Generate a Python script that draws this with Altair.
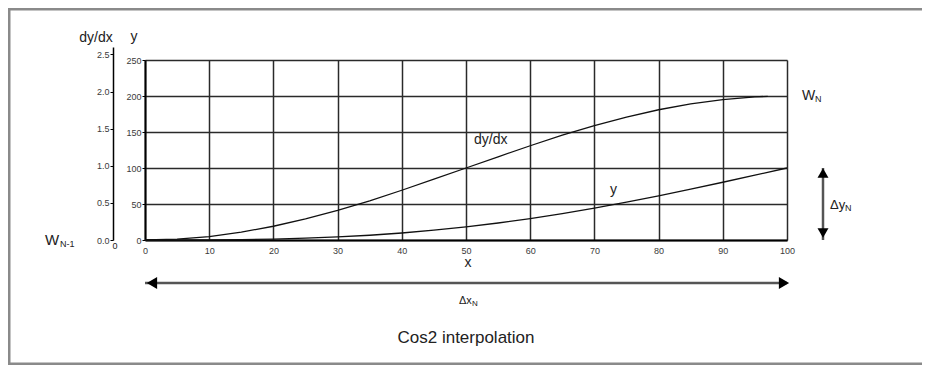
import altair as alt
import pandas as pd

# ---- data ----
x_pts = [0, 5, 10, 15, 20, 25, 30, 35, 40, 45, 50, 55, 60, 65, 70, 75, 80, 85, 90, 95, 100]
dydx_x = [0, 5, 10, 15, 20, 25, 30, 35, 40, 45, 50, 55, 60, 65, 70, 75, 80, 85, 90, 95, 97]
dydx_vals = [0, 1.2, 4.8, 10.9, 19.1, 29.3, 41.2, 54.4, 69.1, 84.4, 100, 115.6, 130.9,
             145.6, 158.8, 170.7, 180.9, 189.1, 195.1, 198.8, 199.5]
y_vals = [0, 0.02, 0.2, 0.6, 1.3, 2.5, 4.3, 6.6, 9.7, 13.6, 18.2, 23.6, 29.7, 36.6,
          44.3, 52.5, 61.3, 70.6, 80.2, 90.0, 100]

x_ticks = [0, 10, 20, 30, 40, 50, 60, 70, 80, 90, 100]
y_ticks = [0, 50, 100, 150, 200, 250]
slope_ticks = [0.0, 0.5, 1.0, 1.5, 2.0, 2.5]

# annotation texts: (text, x px, baseline y px relative to plot area, font size, align)
annotations = [
    ("dy/dx", -49, -18, 14, "center"),
    ("y", -11, -19, 14, "center"),
    ("x", 323, 207, 14, "center"),
    ("Cos2 interpolation", 321, 283, 17, "center"),
    ("0", -30, 189, 9, "center"),
    ("W", -100, 185, 15, "left"),
    ("N-1", -85, 187, 9, "left"),
    ("W", 657, 40, 14, "left"),
    ("N", 670, 42, 9, "left"),
    ("dy/dx", 329, 84, 14, "left"),
    ("y", 465, 134, 14, "left"),
    ("\u0394y", 685, 149, 13, "left"),
    ("N", 700, 151, 9, "left"),
    ("\u0394x", 314, 244, 11, "left"),
    ("N", 327, 246, 8, "left"),
]

W, H = 642, 180
FONT = "Liberation Sans"

xs = alt.Scale(domain=[0, 100], nice=False, zero=False)
ys = alt.Scale(domain=[0, 250], nice=False)

curve_df = pd.concat([
    pd.DataFrame({"x": dydx_x, "v": dydx_vals, "series": "dy/dx"}),
    pd.DataFrame({"x": x_pts, "v": y_vals, "series": "y"}),
])

x_axis = alt.Axis(values=x_ticks, grid=True, gridColor="#2a2a2a", gridWidth=1.5,
                  domainColor="#000", domainWidth=2, ticks=False, tickSize=0,
                  labelFontSize=9, labelColor="#3a3a3a", labelPadding=6, title=None,
                  labelFont=FONT, labelFlush=False, labelOverlap=False)
y_axis = alt.Axis(values=y_ticks, grid=True, gridColor="#2a2a2a", gridWidth=1.5,
                  domainColor="#000", domainWidth=2, tickSize=3, tickColor="#000",
                  labelFontSize=9, labelColor="#3a3a3a", labelPadding=1, title=None,
                  labelFont=FONT, labelOverlap=False)

one = pd.DataFrame({"a": [0]})

# frame around the figure (top, left, bottom edges; the right edge lies off-page)
frame = [
    alt.Chart(one).mark_rule(color="#8a8a8a", strokeWidth=2.5).encode(
        x=alt.value(-137), x2=alt.value(777), y=alt.value(-50.75)),
    alt.Chart(one).mark_rule(color="#8a8a8a", strokeWidth=2.5).encode(
        x=alt.value(-135.75), y=alt.value(-52), y2=alt.value(305)),
    alt.Chart(one).mark_rule(color="#8a8a8a", strokeWidth=2.5).encode(
        x=alt.value(-137), x2=alt.value(777), y=alt.value(303.75)),
]

curves = alt.Chart(curve_df).mark_line(color="#111", strokeWidth=1.3).encode(
    x=alt.X("x:Q", scale=xs, axis=x_axis),
    y=alt.Y("v:Q", scale=ys, axis=y_axis),
    detail="series:N",
)

arrow_df = pd.DataFrame({"x0": [0], "x1": [100], "y0": [0], "y1": [100]})
h_rule = alt.Chart(arrow_df).mark_rule(color="#555", strokeWidth=2.5).encode(
    x=alt.X("x0:Q", scale=xs, axis=x_axis), x2="x1:Q", y=alt.value(223))
h_left = alt.Chart(arrow_df).mark_point(shape="triangle-left", filled=True, size=140,
                                        color="#000", opacity=1, xOffset=7).encode(
    x=alt.X("x0:Q", scale=xs, axis=x_axis), y=alt.value(223))
h_right = alt.Chart(arrow_df).mark_point(shape="triangle-right", filled=True, size=140,
                                         color="#000", opacity=1, xOffset=-3).encode(
    x=alt.X("x1:Q", scale=xs, axis=x_axis), y=alt.value(223))
v_rule = alt.Chart(arrow_df).mark_rule(color="#555", strokeWidth=2.5).encode(
    x=alt.value(678), y=alt.Y("y0:Q", scale=ys, axis=y_axis), y2="y1:Q")
v_top = alt.Chart(arrow_df).mark_point(shape="triangle-up", filled=True, size=120,
                                       color="#000", opacity=1, yOffset=5).encode(
    x=alt.value(678), y=alt.Y("y1:Q", scale=ys, axis=y_axis))
v_bot = alt.Chart(arrow_df).mark_point(shape="triangle-down", filled=True, size=120,
                                       color="#000", opacity=1, yOffset=-7).encode(
    x=alt.value(678), y=alt.Y("y0:Q", scale=ys, axis=y_axis))

texts = [
    alt.Chart(one).mark_text(text=t, fontSize=s, align=al, baseline="alphabetic",
                             color="#222", font=FONT).encode(x=alt.value(px), y=alt.value(py))
    for (t, px, py, s, al) in annotations
]

main = alt.layer(*frame, curves, h_rule, h_left, h_right, v_rule, v_top, v_bot, *texts)

slope_df = pd.DataFrame({"slope": [v / 100 for v in dydx_vals]})
slope_layer = alt.Chart(slope_df).mark_point(opacity=0).encode(
    y=alt.Y("slope:Q", scale=alt.Scale(domain=[0, 2.6], range=[180, -13], nice=False, zero=True),
            axis=alt.Axis(orient="left", offset=32, values=slope_ticks, format=".1f", grid=False,
                          tickSize=3, tickColor="#000", labelPadding=1, labelFontSize=9,
                          labelColor="#3a3a3a", domainColor="#000", domainWidth=1.5,
                          title=None, labelFont=FONT, labelOverlap=False)),
)

chart = alt.layer(main, slope_layer).resolve_scale(y="independent").properties(
    width=W, height=H,
    padding={"left": 137, "top": 52, "right": 135, "bottom": 125},
    autosize=alt.AutoSizeParams(type="none"),
).configure_view(stroke=None).configure(font=FONT, background="white")

chart.save("out.html", embed_options={"renderer": "svg", "actions": False})
